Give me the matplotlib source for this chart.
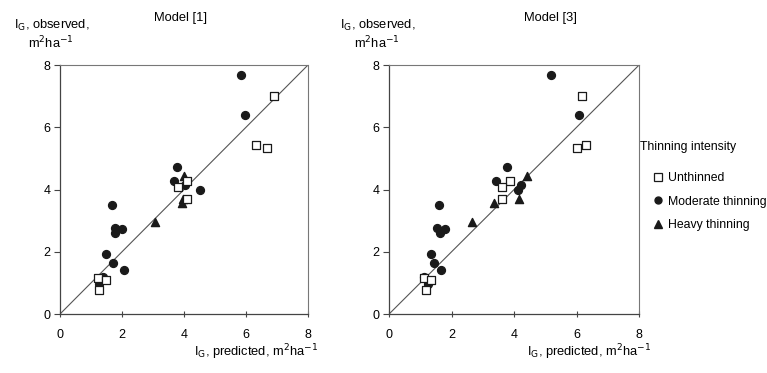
import matplotlib.pyplot as plt
from matplotlib.lines import Line2D

plt.rcParams['font.family'] = ['Liberation Sans', 'DejaVu Sans']

# observed values (same in both panels)
obs_unthinned = [7.0, 5.43, 5.32, 4.28, 4.09, 3.70, 1.16, 1.10, 0.77]
obs_moderate = [7.69, 6.39, 4.74, 4.27, 4.16, 3.97, 3.51, 2.76, 2.74, 2.61, 1.92, 1.63, 1.42, 1.18, 0.95]
obs_heavy = [4.43, 3.71, 3.56, 2.97]

# predicted, model [1]
m1_unthinned = [6.91, 6.34, 6.69, 4.09, 3.82, 4.09, 1.24, 1.48, 1.26]
m1_moderate = [5.84, 5.98, 3.77, 3.67, 4.03, 4.53, 1.69, 1.77, 1.99, 1.77, 1.47, 1.71, 2.06, 1.40, 1.27]
m1_heavy = [4.0, 3.96, 3.95, 3.08]

# predicted, model [3]
m3_unthinned = [6.16, 6.3, 6.0, 3.88, 3.63, 3.62, 1.13, 1.34, 1.17]
m3_moderate = [5.17, 6.07, 3.77, 3.42, 4.22, 4.14, 1.61, 1.52, 1.79, 1.63, 1.34, 1.44, 1.67, 1.13, 1.26]
m3_heavy = [4.43, 4.17, 3.36, 2.64]

ticks = [0, 2, 4, 6, 8]
ink = '#1a1a1a'
line_col = '#555555'
fs = 9.3
fs_leg = 8.8

fig = plt.figure(figsize=(7.67, 3.73), dpi=100)
ax1 = fig.add_axes([0.0782, 0.158, 0.3233, 0.6676])
ax2 = fig.add_axes([0.5072, 0.158, 0.3260, 0.6676])


def panel(ax, pu, pm, ph):
    ax.plot([0, 8], [0, 8], color=line_col, lw=0.8, zorder=1)
    ax.scatter(pm, obs_moderate, s=32, marker='o', color=ink, zorder=3)
    ax.scatter(ph, obs_heavy, s=34, marker='^', color=ink, zorder=3)
    ax.scatter(pu, obs_unthinned, s=40, marker='s', facecolor='white',
               edgecolor=ink, linewidths=0.9, zorder=4)
    ax.set_xlim(0, 8)
    ax.set_ylim(0, 8)
    ax.set_xticks(ticks)
    ax.set_yticks(ticks)
    for s in ['left', 'bottom']:
        ax.spines[s].set_color('#444444')
        ax.spines[s].set_linewidth(0.9)
    for s in ['top', 'right']:
        ax.spines[s].set_color('#777777')
        ax.spines[s].set_linewidth(0.8)
        ax.spines[s].set_linestyle((0, (1, 1)))
    ax.tick_params(axis='x', direction='inout', length=5, width=0.8,
                   color='#444444', labelsize=9, pad=8)
    ax.tick_params(axis='y', direction='out', length=4, width=0.8,
                   color='#444444', labelsize=9, pad=3)


panel(ax1, m1_unthinned, m1_moderate, m1_heavy)
panel(ax2, m3_unthinned, m3_moderate, m3_heavy)

W, H = 767, 373


def ftext(x, y, s, size=fs, **kw):
    fig.text(x / W, 1 - y / H, s, fontsize=size, va='center', **kw)


ftext(180, 18, 'Model [1]', ha='center')
ftext(550, 18, 'Model [3]', ha='center')
for x0 in (14, 340):
    ftext(x0, 25, r'I$_{\rm G}$, observed,', ha='left')
    ftext(x0 + 14, 43, r'm$^2$ha$^{-1}$', ha='left')
ftext(318, 352, r'I$_{\rm G}$, predicted, m$^2$ha$^{-1}$', ha='right')
ftext(651, 352, r'I$_{\rm G}$, predicted, m$^2$ha$^{-1}$', ha='right')

ftext(640, 147, 'Thinning intensity', size=fs_leg, ha='left')
handles = [
    Line2D([], [], ls='none', marker='s', ms=5.5, mfc='white', mec=ink, mew=0.9),
    Line2D([], [], ls='none', marker='o', ms=5, color=ink),
    Line2D([], [], ls='none', marker='^', ms=5.5, color=ink),
]
labels = ['Unthinned', 'Moderate thinning', 'Heavy thinning']
fig.legend(handles, labels, loc='upper left', bbox_to_anchor=(653 / W, 1 - 172 / H),
           frameon=False, fontsize=fs_leg, handlelength=0.8, handletextpad=0.4,
           labelspacing=0.95, borderpad=0, borderaxespad=0)

fig.savefig('out.png', dpi=100)
